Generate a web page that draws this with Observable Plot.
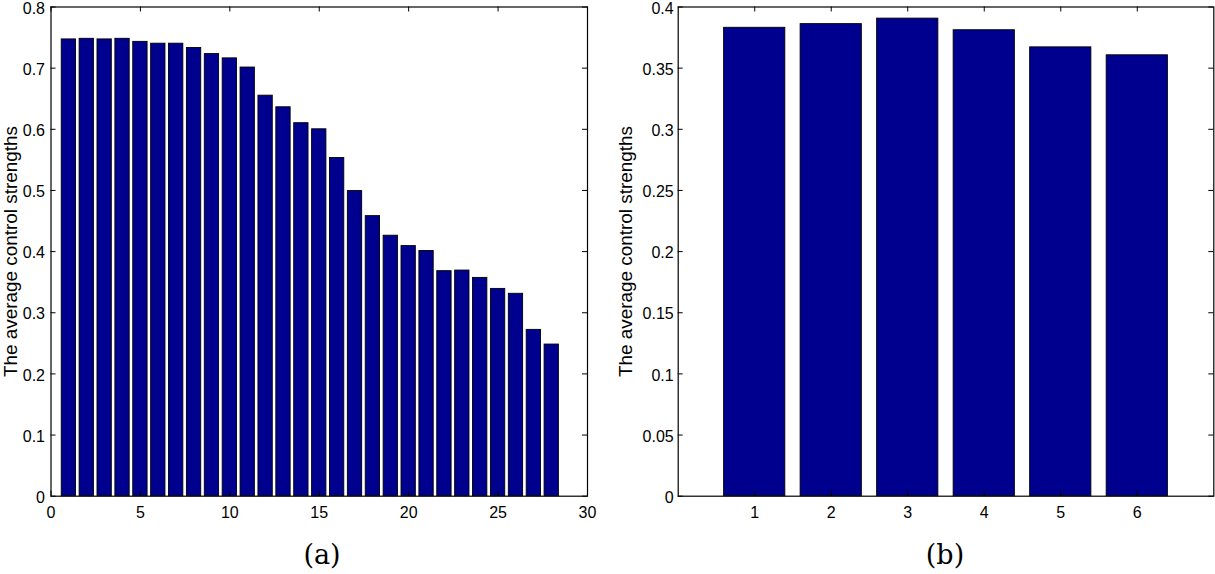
<!DOCTYPE html>
<html><head><meta charset="utf-8">
<script src="https://cdn.jsdelivr.net/npm/d3@7"></script>
<script src="https://cdn.jsdelivr.net/npm/@observablehq/plot@0.6"></script>
<style>
body{margin:0;background:#fff;}
#wrap{position:relative;width:1215px;height:574px;overflow:hidden;}
.panel{position:absolute;top:0;}
.panel svg{overflow:visible;}
.cap{position:absolute;font-family:"DejaVu Serif","Liberation Serif",serif;font-size:27px;line-height:30px;transform:translateX(-50%);white-space:nowrap;}
</style></head>
<body>
<div id="wrap">
  <div class="panel" id="pa" style="left:0px;width:600px"></div>
  <div class="panel" id="pb" style="left:610px;width:605px"></div>
  <div class="cap" style="left:322px;top:540px">(a)</div>
  <div class="cap" style="left:945px;top:540px">(b)</div>
</div>
<script>
// ---- data ----
const yLabel = "The average control strengths";
const aCategories = [1,2,3,4,5,6,7,8,9,10,11,12,13,14,15,16,17,18,19,20,21,22,23,24,25,26,27,28];
const aValues = [0.747,0.748,0.747,0.748,0.743,0.740,0.740,0.733,0.723,0.716,0.701,0.655,0.636,0.610,0.600,0.553,0.499,0.458,0.426,0.409,0.401,0.368,0.369,0.357,0.339,0.331,0.272,0.248];
const aXTicks = [0,5,10,15,20,25,30];
const aYTicks = [0,0.1,0.2,0.3,0.4,0.5,0.6,0.7,0.8];
const bCategories = [1,2,3,4,5,6];
const bValues = [0.383,0.386,0.3905,0.381,0.367,0.3605];
const bXTicks = [1,2,3,4,5,6];
const bYTicks = [0,0.05,0.1,0.15,0.2,0.25,0.3,0.35,0.4];

const barFill = "#00008f";

function panel({cats, vals, xDomain, yDomain, xTicks, yTicks, width, height, mL, mR, mT, mB, yPad, labelDx}) {
  const data = cats.map((c, i) => ({x: c, v: vals[i]}));
  const ph = height - mT - mB;
  const pw = width - mL - mR;
  const tk = 5;
  const svg = Plot.plot({
    width, height,
    marginLeft: mL, marginRight: mR, marginTop: mT, marginBottom: mB,
    style: {fontFamily: "Liberation Sans, Arial, sans-serif", fontSize: "16px", color: "black", background: "white"},
    x: {domain: xDomain, axis: null},
    y: {domain: yDomain, axis: null},
    marks: [
      Plot.rectY(data, {x1: d => d.x - 0.4, x2: d => d.x + 0.4, y1: 0, y2: "v", fill: barFill, stroke: "black", strokeWidth: 0.9}),
      Plot.tickX(xTicks, {x: d => d, insetTop: ph - tk, stroke: "black"}),
      Plot.tickX(xTicks, {x: d => d, insetBottom: ph - tk, stroke: "black"}),
      Plot.tickY(yTicks, {y: d => d, insetRight: pw - tk, stroke: "black"}),
      Plot.tickY(yTicks, {y: d => d, insetLeft: pw - tk, stroke: "black"}),
      Plot.axisX({ticks: xTicks, tickSize: 0, tickPadding: 10, fontSize: 16, tickFormat: d => String(d), label: null}),
      Plot.axisY({ticks: yTicks, tickSize: 0, tickPadding: yPad, fontSize: 16, dy: 1.5, tickFormat: d => String(d), label: null}),
      Plot.text([yLabel], {frameAnchor: "left", textAnchor: "middle", text: d => d, rotate: -90, dx: labelDx, fontSize: 18.8}),
      Plot.frame({stroke: "black", strokeWidth: 1.2})
    ]
  });
  svg.querySelectorAll("text").forEach(t => {
    if (t.textContent === yLabel) {
      t.setAttribute("textLength", "251");
      t.setAttribute("lengthAdjust", "spacingAndGlyphs");
    }
  });
  return svg;
}

document.getElementById("pa").append(panel({
  cats: aCategories, vals: aValues, xDomain: [0, 30], yDomain: [0, 0.8],
  xTicks: aXTicks, yTicks: aYTicks, width: 600, height: 530,
  mL: 50.5, mR: 13, mT: 6.5, mB: 34.3, yPad: 6, labelDx: -40.5
}));
document.getElementById("pb").append(panel({
  cats: bCategories, vals: bValues, xDomain: [0, 7], yDomain: [0, 0.4],
  xTicks: bXTicks, yTicks: bYTicks, width: 605, height: 530,
  mL: 67.7, mR: 1.7, mT: 6.5, mB: 34.3, yPad: 4.5, labelDx: -52.7
}));
</script>
</body></html>
